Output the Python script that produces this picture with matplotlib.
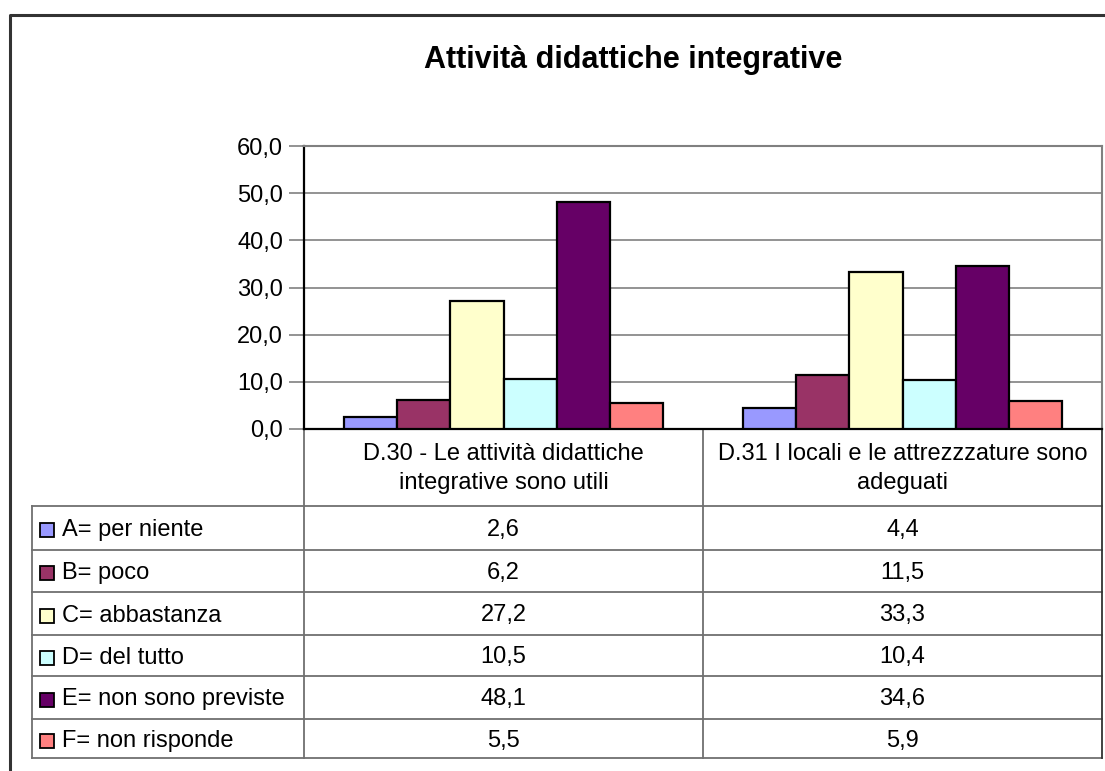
import numpy as np
import matplotlib
matplotlib.use("Agg")
import matplotlib.pyplot as plt
from matplotlib.patches import Rectangle

plt.rcParams['font.family'] = ['Liberation Sans', 'DejaVu Sans']

title = "Attività didattiche integrative"
categories = ["D.30 - Le attività didattiche\nintegrative sono utili",
              "D.31 I locali e le attrezzzature sono\nadeguati"]
series = ["A= per niente", "B= poco", "C= abbastanza", "D= del tutto",
          "E= non sono previste", "F= non risponde"]
values = [
    [2.6, 4.4],
    [6.2, 11.5],
    [27.2, 33.3],
    [10.5, 10.4],
    [48.1, 34.6],
    [5.5, 5.9],
]
colors = ["#9999FF", "#993366", "#FFFFCC", "#CCFFFF", "#660066", "#FF8080"]
yticks = [0, 10, 20, 30, 40, 50, 60]

W, H = 1105, 771
fs = 17
fig = plt.figure(figsize=(W / 100, H / 100), dpi=100)

# background axes in pixel coordinates for frame and data table
bg = fig.add_axes([0, 0, 1, 1])
bg.set_xlim(0, W)
bg.set_ylim(H, 0)
bg.axis('off')

# plot area (pixels)
pl, pr, pt, pb = 304, 1102, 146, 429
ax = fig.add_axes([pl / W, 1 - pb / H, (pr - pl) / W, (pb - pt) / H])

n = len(series)
bw = 1 / (n + 1.5)
x = np.arange(len(categories))
for i in range(n):
    ax.bar(x + (i - (n - 1) / 2) * bw, values[i], width=bw, color=colors[i],
           edgecolor='black', linewidth=1.6, zorder=3)

ax.set_xlim(-0.5, len(categories) - 0.5)
ax.set_ylim(0, 60)
ax.set_yticks(yticks)
ax.set_yticklabels([f"{v:.1f}".replace('.', ',') for v in yticks], fontsize=fs)
ax.set_xticks([])
ax.tick_params(axis='y', length=11, width=1.2, color='#808080', pad=4)
ax.yaxis.grid(True, color='#808080', linewidth=1.2, zorder=0)
for s in ['top', 'right']:
    ax.spines[s].set_color('#808080')
    ax.spines[s].set_linewidth(1.5)
for s in ['left', 'bottom']:
    ax.spines[s].set_color('black')
    ax.spines[s].set_linewidth(1.6)

# outer frame
bg.plot([10, 10, W + 5], [H + 5, 15, 15], color='#333333', lw=2.2)

fig.text(633 / W, 1 - 60 / H, title, fontsize=22, fontweight='bold',
         ha='center', va='center')

# data table
tl = 32
row_y = [506, 550, 592, 635, 676, 719, 758]
col_x = [pl + (pr - pl) * (k + 0.5) / len(categories) for k in range(len(categories))]
sep_x = [pl + (pr - pl) * k / len(categories) for k in range(len(categories) + 1)]
gc = '#707070'
for y in row_y:
    bg.plot([tl, pr], [y, y], color=gc, lw=1.3)
bg.plot([tl, tl], [row_y[0], row_y[-1]], color=gc, lw=1.3)
for k, sx in enumerate(sep_x):
    bg.plot([sx, sx], [pb, row_y[-1]], color=gc if k != len(sep_x) - 1 else '#333333', lw=1.3)

for k, c in enumerate(categories):
    bg.text(col_x[k], (pb + row_y[0]) / 2 + 1, c, fontsize=fs, ha='center',
            va='center', linespacing=1.45)

for i in range(n):
    yc = (row_y[i] + row_y[i + 1]) / 2 + 2
    bg.add_patch(Rectangle((40, yc - 7), 14, 14, facecolor=colors[i],
                           edgecolor='black', lw=1.3))
    bg.text(62, yc, series[i], fontsize=fs, ha='left', va='center')
    for k in range(len(categories)):
        bg.text(col_x[k], yc, f"{values[i][k]:.1f}".replace('.', ','),
                fontsize=fs, ha='center', va='center')

fig.savefig("out.png", dpi=100)
